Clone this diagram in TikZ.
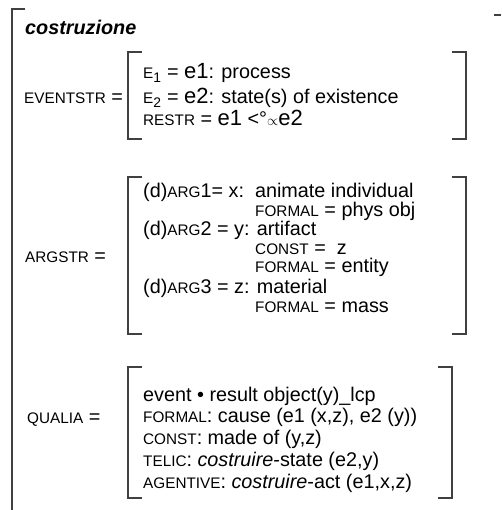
\documentclass[tikz,border=0pt]{standalone}
\usepackage{fontspec}
\setmainfont{Liberation Sans}
\usepackage{tikz}

\newcommand{\smc}[1]{{\fontsize{15.3}{17}\selectfont #1}}
\newcommand{\evar}[1]{{\fontsize{22}{24}\selectfont #1}}

\begin{document}
\begin{tikzpicture}[x=1pt, y=-1pt,
    every node/.style={anchor=base west, inner sep=0pt, font=\fontsize{19.8}{22}\selectfont},
    brk/.style={line width=1.2pt, black!75}]
            \useasboundingbox (0,0) rectangle (501,510);

            % outer frame
            \draw[brk] (25,9) -- (12,9) -- (12,510);
            \draw[brk] (494,15) -- (501,15);
            \node (title) at (25,35) {\fontsize{19.8}{22}\selectfont\bfseries\itshape costruzione};

            % eventstr
            \node (evlbl) at (24,104) {\smc{EVENTSTR} =};
            \draw[brk] (142,52) -- (128,52) -- (128,139) -- (142,139);
            \draw[brk] (452,52) -- (466,52) -- (466,139) -- (452,139);
            \node (ev1) at (143,79) {\smc{E}\textsubscript{1} = \evar{e1}: process};
            \node (ev2) at (143,104) {\smc{E}\textsubscript{2} = \evar{e2}: state(s) of existence};
            \node (restr) at (143,126) {\smc{RESTR} = \evar{e1} <°{\fontsize{14}{16}\selectfont$\propto$}\evar{e2}};

            % argstr
            \node (arglbl) at (25,262) {\smc{ARGSTR} =};
            \draw[brk] (142,177) -- (128,177) -- (128,334) -- (142,334);
            \draw[brk] (452,177) -- (466,177) -- (466,334) -- (452,334);
            \node (arg1) at (143,198) {(d)\smc{ARG}1= x:\ \ animate individual};
            \node (arg1f) at (255,217) {\smc{FORMAL} = phys obj};
            \node (arg2) at (143,236) {(d)\smc{ARG}2 = y: artifact};
            \node (arg2c) at (255,254) {\smc{CONST} =\ \ z};
            \node (arg2f) at (255,272) {\smc{FORMAL} = entity};
            \node (arg3) at (143,293) {(d)\smc{ARG}3 = z: material};
            \node (arg3f) at (255,312) {\smc{FORMAL} = mass};

            % qualia
            \node (qlbl) at (27,423) {\smc{QUALIA} =};
            \draw[brk] (142,367) -- (128,367) -- (128,498) -- (142,498);
            \draw[brk] (438,367) -- (452,367) -- (452,498) -- (438,498);
            \node (q0) at (143,401) {event • result object(y)\_lcp};
            \node (qf) at (143,422) {\smc{FORMAL}: cause (e1 (x,z), e2 (y))};
            \node (qc) at (143,444) {\smc{CONST}: made of (y,z)};
            \node (qt) at (143,466) {\smc{TELIC}: \textit{costruire}-state (e2,y)};
            \node (qa) at (143,488) {\smc{AGENTIVE}: \textit{costruire}-act (e1,x,z)};
        \end{tikzpicture}
\end{document}
